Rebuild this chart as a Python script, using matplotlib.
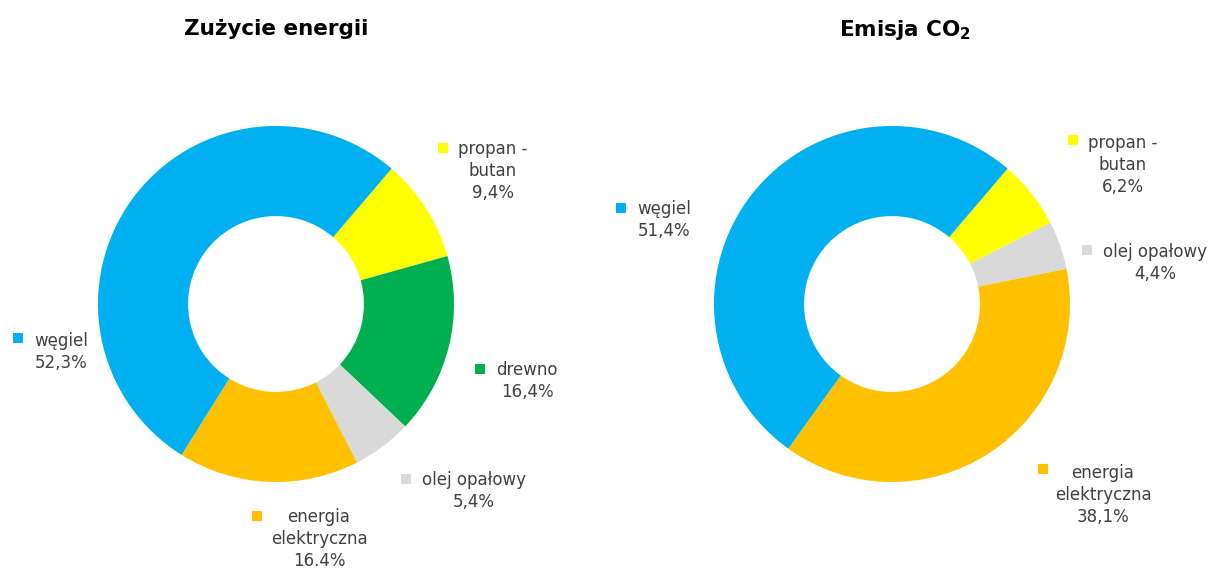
import matplotlib
matplotlib.use("Agg")
import matplotlib.pyplot as plt
from matplotlib.patches import Rectangle

# ---- data ----
left_title = "Zużycie energii"
left_categories = ["propan -\nbutan", "drewno", "olej opałowy", "energia\nelektryczna", "węgiel"]
left_values = [9.4, 16.4, 5.4, 16.4, 52.3]
left_value_labels = ["9,4%", "16,4%", "5,4%", "16.4%", "52,3%"]
left_colors = ["#FFFF00", "#00B050", "#D9D9D9", "#FFC000", "#00B0F0"]

right_title = r"Emisja CO$_\mathbf{2}$"
right_categories = ["propan -\nbutan", "olej opałowy", "energia\nelektryczna", "węgiel"]
right_values = [6.2, 4.4, 38.1, 51.4]
right_value_labels = ["6,2%", "4,4%", "38,1%", "51,4%"]
right_colors = ["#FFFF00", "#D9D9D9", "#FFC000", "#00B0F0"]

W, H = 1208, 571
fig = plt.figure(figsize=(W / 100, H / 100), dpi=100)
fig.patch.set_facecolor("white")

LABEL_FONT = "DejaVu Sans"
TXT = "#404040"


def px(x, y):
    return x / W, 1 - y / H


def donut(cx, cy, r, values, colors):
    ax = fig.add_axes([(cx - r) / W, (H - cy - r) / H, 2 * r / W, 2 * r / H])
    ax.pie(values, colors=colors, startangle=90 - 40.5, counterclock=False,
           radius=1, wedgeprops=dict(width=0.506, edgecolor="none"))
    ax.set_xlim(-1, 1)
    ax.set_ylim(-1, 1)
    ax.set_aspect("equal")
    ax.axis("off")
    return ax


donut(276, 304, 178, left_values, left_colors)
donut(892, 304, 178, right_values, right_colors)

fig.text(*px(276, 29), left_title, ha="center", va="center", fontsize=15.5,
         fontweight="bold", color="black", family="DejaVu Sans")
fig.text(*px(905, 30), right_title, ha="center", va="center", fontsize=15.5,
         fontweight="bold", color="black", family="DejaVu Sans")


def label(tx, ty, sx, sy, name, val, color):
    fig.text(*px(tx, ty), name + "\n" + val, ha="center", va="center",
             multialignment="center", fontsize=12, color=TXT,
             family=LABEL_FONT, linespacing=1.3)
    s = 10
    fig.patches.append(Rectangle(((sx - s / 2) / W, 1 - (sy + s / 2) / H), s / W, s / H,
                                 transform=fig.transFigure, facecolor=color,
                                 edgecolor="none"))


# label layout (text centre, square centre) in pixels
left_pos = [(493, 171, 443, 148), (527, 381, 480, 369), (474, 491, 406, 479),
            (319, 539, 257, 516), (61, 352, 18, 338)]
right_pos = [(1123, 165, 1073, 140), (1155, 263, 1087, 250),
             (1103, 495, 1043, 469), (664, 220, 621, 208)]

for (tx, ty, sx, sy), n, v, c in zip(left_pos, left_categories, left_value_labels, left_colors):
    label(tx, ty, sx, sy, n, v, c)
for (tx, ty, sx, sy), n, v, c in zip(right_pos, right_categories, right_value_labels, right_colors):
    label(tx, ty, sx, sy, n, v, c)

fig.savefig("out.png", dpi=100, facecolor="white")
